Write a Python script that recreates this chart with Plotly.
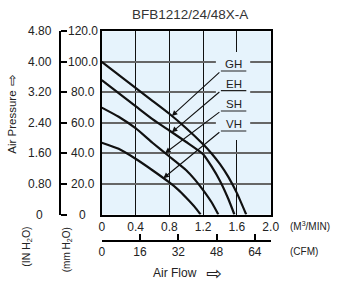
import plotly.graph_objects as go
import numpy as np

# ---------------- data ----------------
flow_gh = [0, 0.2, 0.4, 0.6, 0.8, 1.0, 1.2, 1.3, 1.4, 1.5, 1.6, 1.71]
pres_gh = [100, 91.5, 83, 74.5, 66, 56.5, 46, 40, 33, 24.5, 14, 0]

flow_eh = [0, 0.2, 0.4, 0.6, 0.8, 1.0, 1.2, 1.3, 1.4, 1.5, 1.57]
pres_eh = [88, 79.5, 71, 62.5, 55, 47.5, 39.5, 31.5, 22, 10, 0]

flow_sh = [0, 0.2, 0.4, 0.6, 0.8, 1.0, 1.1, 1.2, 1.3, 1.38]
pres_sh = [70, 64, 56.5, 47, 38, 29, 23, 16, 8, 0]

flow_vh = [0, 0.2, 0.4, 0.6, 0.8, 0.9, 1.0, 1.1, 1.17]
pres_vh = [47, 43, 36.5, 29, 21, 16.5, 11, 5, 0]

series_names = ["GH", "EH", "SH", "VH"]
series_flow = [flow_gh, flow_eh, flow_sh, flow_vh]
series_pres = [pres_gh, pres_eh, pres_sh, pres_vh]
arrow_tip_flow = [0.83, 0.83, 0.75, 0.73]
label_line_pres = [94.0, 81.1, 67.8, 54.7]

x_tickvals = [0, 0.4, 0.8, 1.2, 1.6, 2.0]
x_ticktext = ["0", "0.4", "0.8", "1.2", "1.6", "2.0"]
cfm_tickvals = [0, 16, 32, 48, 64]
mm_ticks = [0, 20, 40, 60, 80, 100, 120]
mm_labels = ["0", "20.0", "40.0", "60.0", "80.0", "100.0", "120.0"]
in_labels = ["0", "0.80", "1.60", "2.40", "3.20", "4.00", "4.80"]

CFM_PER_M3MIN = 35.3147
W, H = 347, 288


def px_x(p):
    return p / W


def px_y(p):
    return 1 - p / H


BG = "#E6F3FC"
FONT = "Liberation Sans, Arial, sans-serif"

fig = go.Figure()

for name, fx, fy in zip(series_names, series_flow, series_pres):
    fig.add_trace(go.Scatter(x=fx, y=fy, mode="lines", name=name,
                             line=dict(color="#111111", width=2.2, shape="spline", smoothing=0.5),
                             hoverinfo="skip", showlegend=False))

# invisible traces to bind the secondary axes
fig.add_trace(go.Scatter(x=[0], y=[0], xaxis="x2", yaxis="y", mode="markers",
                         marker=dict(opacity=0), hoverinfo="skip", showlegend=False))
fig.add_trace(go.Scatter(x=[0], y=[0], xaxis="x", yaxis="y2", mode="markers",
                         marker=dict(opacity=0), hoverinfo="skip", showlegend=False))

xd = [px_x(102.3), px_x(277.3)]
yd = [px_y(214.5), px_y(31.3)]

fig.update_layout(
    width=W, height=H, autosize=False,
    margin=dict(l=0, r=0, t=0, b=0),
    paper_bgcolor="white", plot_bgcolor=BG,
    font=dict(family=FONT, size=12, color="#222222"),
    showlegend=False,
    xaxis=dict(domain=xd, range=[0, 2], tickvals=x_tickvals, ticktext=x_ticktext,
               showgrid=True, gridcolor="#111111", gridwidth=1.2,
               showline=True, mirror=True, linecolor="black", linewidth=2,
               ticks="", zeroline=False, tickfont=dict(size=12, color="#222222")),
    yaxis=dict(domain=yd, range=[0, 120], tickvals=mm_ticks, showticklabels=False,
               showgrid=True, gridcolor="#666666", gridwidth=2,
               showline=True, mirror=True, linecolor="black", linewidth=2,
               ticks="", zeroline=False),
    xaxis2=dict(overlaying="x", anchor="free", position=px_y(240.7), side="bottom",
                range=[0, 2 * CFM_PER_M3MIN], tickvals=cfm_tickvals,
                ticks="inside", ticklen=6, tickwidth=2, tickcolor="black",
                showline=True, linewidth=2, linecolor="black",
                showgrid=False, zeroline=False, tickfont=dict(size=12, color="#222222")),
    yaxis2=dict(overlaying="y", anchor="free", position=px_x(59.3), side="right",
                range=[0, 120], tickvals=mm_ticks, ticks="outside", ticklen=6,
                tickwidth=2, tickcolor="black", showticklabels=False,
                showline=True, linewidth=2, linecolor="black",
                showgrid=False, zeroline=False),
)

# box behind labels (breaks the grid)
fig.add_shape(type="rect", xref="x", yref="y", x0=1.351, x1=1.757, y0=48.8, y1=106.4,
              fillcolor=BG, line=dict(width=0), layer="between")

annotations = []
for name, fx, fy, tipx, ly in zip(series_names, series_flow, series_pres,
                                  arrow_tip_flow, label_line_pres):
    tipy = float(np.interp(tipx, fx, fy))
    fig.add_shape(type="line", xref="x", yref="y", x0=1.41, x1=1.711, y0=ly, y1=ly,
                  line=dict(color="#222222", width=1.2), layer="above")
    annotations.append(dict(x=tipx, y=tipy, xref="x", yref="y", ax=1.41, ay=ly,
                            axref="x", ayref="y", text="", showarrow=True,
                            arrowhead=2, arrowsize=1, arrowwidth=1.1,
                            arrowcolor="#111111", standoff=0))
    annotations.append(dict(x=1.562, y=ly, xref="x", yref="y", text=name,
                            showarrow=False, xanchor="center", yanchor="middle", yshift=7,
                            font=dict(size=11.5, color="#222222")))

# left tick labels (centered)
for v, mm, inch in zip(mm_ticks, mm_labels, in_labels):
    annotations.append(dict(x=px_x(82.5), y=v, xref="paper", yref="y", text=mm,
                            showarrow=False, xanchor="center", yanchor="middle",
                            font=dict(size=12, color="#222222")))
    annotations.append(dict(x=px_x(38), y=v, xref="paper", yref="y", text=inch,
                            showarrow=False, xanchor="center", yanchor="middle",
                            font=dict(size=12, color="#222222")))


def ptext(x, y, text, size, anchor="center", angle=0, family=None, color="#222222"):
    f = dict(size=size, color=color)
    if family:
        f["family"] = family
    return dict(x=px_x(x), y=px_y(y), xref="paper", yref="paper", text=text,
                showarrow=False, xanchor=anchor, yanchor="middle",
                textangle=angle, font=f)


annotations += [
    ptext(193.5, 14, "BFB1212/24/48X-A", 13.5, color="#333333"),
    ptext(295.5, 225.5, "(M<sup>3</sup>/MIN)", 10, anchor="left"),
    ptext(295.5, 251.5, "(CFM)", 10, anchor="left"),
    ptext(178, 273, "Air Flow", 12),
    ptext(219, 272.5, "⇨", 19, family="DejaVu Sans"),
    ptext(9, 122, "Air Pressure", 11.5, angle=-90),
    ptext(9, 80, "⇨", 14, angle=-90, family="DejaVu Sans"),
    ptext(24, 246.5, "(IN H<sub>2</sub>O)", 10.5, angle=-90),
    ptext(66, 249.5, "(mm H<sub>2</sub>O)", 10, angle=-90),
]
fig.update_layout(annotations=annotations)

fig.write_html("out.html")
